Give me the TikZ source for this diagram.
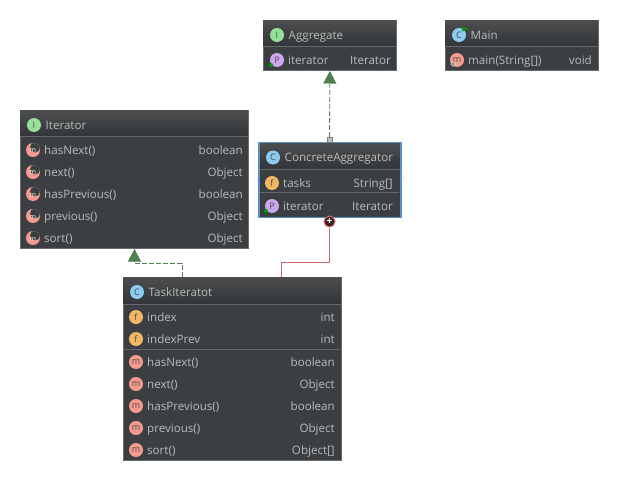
\documentclass[tikz,border=0pt]{standalone}
\usepackage{fontspec}
\setmainfont{Open Sans}
\usetikzlibrary{arrows.meta,shapes.geometric}

\definecolor{bodygray}{HTML}{3C3F41}
\definecolor{linegray}{HTML}{66696B}
\definecolor{textgray}{HTML}{BBBBBB}
\definecolor{headtop}{HTML}{4B4D4F}
\definecolor{headbot}{HTML}{323537}
\definecolor{selblue}{HTML}{5B8FC7}
\definecolor{implgreen}{HTML}{4F7F4F}
\definecolor{nestred}{HTML}{D06A6A}
\definecolor{iconi}{HTML}{97E097}
\definecolor{iconc}{HTML}{8CCBF2}
\definecolor{iconf}{HTML}{F2B765}
\definecolor{iconp}{HTML}{CDA6F2}
\definecolor{iconm}{HTML}{F59A8C}

\tikzset{
    umlbox/.style={draw=linegray, line width=1pt, fill=bodygray, inner sep=0pt, minimum width=#1},
    icon/.style={circle, fill=#1, inner sep=0pt, minimum size=14pt, text=black!70,
        font=\fontsize{9}{9}\selectfont},
    absicon/.style={icon=iconm, text=white, text height=6pt, text depth=0pt,
        font=\fontsize{7}{7}\selectfont, path picture={
        \fill [bodygray] ([xshift=2pt, yshift=2.5pt]path picture bounding box.center) circle (5pt);}},
    rowtext/.style={text=textgray, inner sep=0pt, text height=11pt, text depth=2pt,
        font=\fontsize{11.6}{12}\selectfont},
    realizes/.style={implgreen, line width=0.8pt, dash pattern=on 5pt off 2pt,
        -{Triangle[length=12.5pt, width=13pt, fill=implgreen]}},
    nested/.style={nestred, line width=1pt},
    divider/.style={linegray, line width=1pt},
    greendot/.style={circle, fill=green!60!black, inner sep=0pt, minimum size=4pt},
    handle/.style={fill=black!12, inner sep=0pt, minimum width=1pt, minimum height=4pt}
}

% #1 box, #2 y, #3 icon letter, #4 icon style, #5 text, #6 left x, #7 right x, #8 type
\newcommand{\classrow}[8]{
    \node [#4] (#1i#2) at (#6+10, #2) {#3};
    \node [rowtext, anchor=west] (#1n#2) at (#6+21, #2) {#5};
    \node [rowtext, anchor=east] (#1t#2) at (#7, #2) {#8};
}
% #1 box, #2 left, #3 top, #4 width, #5 height, #6 header bottom, #7 letter, #8 colour
\newcommand{\classbox}[9]{
    \node [umlbox=#4 pt, minimum height=#5 pt, anchor=north west] (#1) at (#2, #3) {};
    \shade [top color=headtop, bottom color=headbot] (#2+0.5, #3+0.5) rectangle (#2+#4-0.5, #6);
    \draw [divider] (#2, #6) -- (#2+#4, #6);
    \node [icon=#8] (#1icon) at (#2+14, #3+15) {#7};
    \node [rowtext, anchor=west] (#1title) at (#2+25.5, #3+15) {#9};
}

\begin{document}
\begin{tikzpicture}[x=1pt, y=-1pt]
    \useasboundingbox (0, 0) rectangle (618, 481);
    \fill [white] (0, 0) rectangle (618, 481);

    % Draw classes
    \classbox{aggregate}{263}{20}{133}{50}{47}{I}{iconi}{Aggregate}
    \classrow{aggregate}{60}{P}{icon=iconp}{iterator}{267}{391}{Iterator}
    \node [greendot] (aggregatedot) at (271, 65) {};

    \classbox{main}{445}{20}{153}{50}{47}{C}{iconc}{Main}
    \classrow{main}{60}{m}{icon=iconm}{main(String[])}{447}{592}{void}
    \node [isosceles triangle, fill=green!60!black, inner sep=0pt, minimum size=5pt] (mainrun) at (464, 29) {};
    \node [diamond, draw=white, fill=gray, inner sep=0pt, minimum size=5pt] (mainstatic) at (453, 64) {};

    \classbox{iterator}{20}{110}{228}{138}{137}{I}{iconi}{Iterator}
    \classrow{iterator}{150}{m}{absicon}{hasNext()}{23}{243}{boolean}
    \classrow{iterator}{172}{m}{absicon}{next()}{23}{243}{Object}
    \classrow{iterator}{194}{m}{absicon}{hasPrevious()}{23}{243}{boolean}
    \classrow{iterator}{216}{m}{absicon}{previous()}{23}{243}{Object}
    \classrow{iterator}{238}{m}{absicon}{sort()}{23}{243}{Object}

    \classbox{concrete}{259}{142.5}{141}{74}{170}{C}{iconc}{ConcreteAggregator}
    \draw [divider] (260, 192.5) -- (399, 192.5);
    \classrow{concrete}{183}{f}{icon=iconf}{tasks}{262}{393}{String[]}
    \classrow{concrete}{206}{P}{icon=iconp}{iterator}{262}{393}{Iterator}
    \draw [selblue, line width=1.2pt] (concrete.north west) rectangle (concrete.south east);
    \node [greendot] (concretedot) at (266, 211) {};
    \node [handle] (handleleft) at (257.5, 180) {};
    \node [handle] (handleright) at (403, 177) {};

    \classbox{task}{123}{277}{218}{183}{304}{C}{iconc}{TaskIteratot}
    \draw [divider] (124, 349.5) -- (340, 349.5);
    \classrow{task}{317}{f}{icon=iconf}{index}{126}{335}{int}
    \classrow{task}{339}{f}{icon=iconf}{indexPrev}{126}{335}{int}
    \classrow{task}{362}{m}{icon=iconm}{hasNext()}{126}{335}{boolean}
    \classrow{task}{384}{m}{icon=iconm}{next()}{126}{335}{Object}
    \classrow{task}{406}{m}{icon=iconm}{hasPrevious()}{126}{335}{boolean}
    \classrow{task}{428}{m}{icon=iconm}{previous()}{126}{335}{Object}
    \classrow{task}{450}{m}{icon=iconm}{sort()}{126}{335}{Object[]}

    % Draw connectors
    \coordinate (taskleft) at (182, 277);
    \coordinate (taskright) at (281, 277);
    \node [draw=gray, fill=lightgray, inner sep=0pt, minimum size=5pt] (port) at (329.5, 139.5) {};
    \node [circle, draw=nestred, line width=1pt, fill=black!70!nestred, inner sep=0pt,
        minimum size=11pt, text=white, font=\fontsize{10}{10}\selectfont\bfseries] (plus) at (329.5, 221.5) {+};

    \draw [realizes] (port) -- (aggregate);
    \draw [realizes] (taskleft) -- ++(0, -14) -| (iterator.south);
    \draw [nested] (taskright) -- ++(0, -15) -| (plus);
\end{tikzpicture}
\end{document}
